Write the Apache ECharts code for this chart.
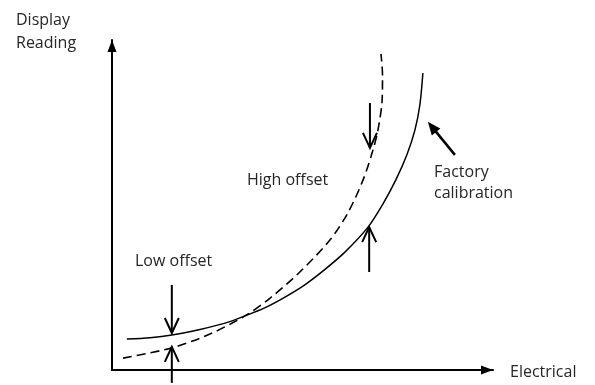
<!DOCTYPE html>
<html>
<head>
<meta charset="utf-8">
<script src="https://cdn.jsdelivr.net/npm/echarts@6/dist/echarts.min.js"></script>
<style>
  html, body { margin: 0; padding: 0; background: #fff; }
  #chart { width: 595px; height: 385px; }
</style>
</head>
<body>
<div id="chart"></div>
<script>
// Factory calibration curve: [electrical input, display reading]
const factoryCalibration = [
  [3.9, 9.4], [10.0, 9.8], [15.7, 10.6], [23.1, 12.3], [29.7, 14.2],
  [34.9, 16.4], [40.2, 18.9], [45.4, 22.1], [50.7, 25.9], [55.9, 30.5],
  [61.2, 35.8], [67.2, 43.3], [71.1, 50.3], [74.5, 57.6], [77.4, 65.2],
  [79.5, 72.7], [80.8, 80.3], [81.6, 90.0]
];

// Sensor response with an offset (lower at the low end, higher at the high end)
const offsetCurve = [
  [2.9, 3.6], [15.7, 6.7], [25.7, 10.9], [34.9, 16.4], [41.5, 21.8],
  [49.3, 29.7], [57.2, 39.4], [61.9, 47.6], [65.9, 57.6], [68.5, 66.7],
  [69.8, 72.7], [70.9, 81.8], [71.0, 89.4], [70.6, 95.8]
];

// Offset markers: [x1, y1, x2, y2, head] (arrow runs from point 1 to point 2)
const offsetArrows = [
  [15.7, 25.8, 15.7, 11.2, 'open'],   // low offset, from above
  [15.7, -3.9, 15.7, 7.0, 'open'],    // low offset, from below
  [67.7, 80.9, 67.7, 67.3, 'open'],   // high offset, from above
  [67.5, 29.7, 67.5, 43.3, 'open']    // high offset, from below
];

// Pointer to the factory calibration curve
const calibrationPointer = [
  [90.0, 65.2, 82.9, 75.2, 'filled']
];

const axisTitles = { y: ['Display', 'Reading'], x: 'Electrical' };
const notes = { high: 'High offset', low: 'Low offset', factory: ['Factory', 'calibration'] };

const FONT = '16px "Open Sans", "Noto Sans", sans-serif';
const INK = '#000';
const TEXT = '#262626';

function renderArrow(params, api) {
  const p1 = api.coord([api.value(0), api.value(1)]);
  const p2 = api.coord([api.value(2), api.value(3)]);
  const head = api.value(4);
  const dx = p2[0] - p1[0], dy = p2[1] - p1[1];
  const len = Math.sqrt(dx * dx + dy * dy);
  const ux = dx / len, uy = dy / len;
  const nx = -uy, ny = ux;
  const children = [];
  if (head === 'open') {
    const L = 15, W = 7;
    children.push({
      type: 'line',
      shape: { x1: p1[0], y1: p1[1], x2: p2[0], y2: p2[1] },
      style: { stroke: INK, lineWidth: 2 }
    });
    children.push({
      type: 'polyline',
      shape: { points: [
        [p2[0] - L * ux + W * nx, p2[1] - L * uy + W * ny],
        [p2[0], p2[1]],
        [p2[0] - L * ux - W * nx, p2[1] - L * uy - W * ny]
      ] },
      style: { stroke: INK, lineWidth: 2, fill: null }
    });
  } else {
    const L = 13, W = 5.5;
    children.push({
      type: 'line',
      shape: { x1: p1[0], y1: p1[1], x2: p2[0] - L * 0.6 * ux, y2: p2[1] - L * 0.6 * uy },
      style: { stroke: INK, lineWidth: 2.5 }
    });
    children.push({
      type: 'polygon',
      shape: { points: [
        [p2[0], p2[1]],
        [p2[0] - L * ux + W * nx, p2[1] - L * uy + W * ny],
        [p2[0] - L * ux - W * nx, p2[1] - L * uy - W * ny]
      ] },
      style: { fill: INK }
    });
  }
  return { type: 'group', children: children };
}

const chart = echarts.init(document.getElementById('chart'), null, { renderer: 'canvas' });

const axisCommon = {
  type: 'value',
  min: 0,
  max: 100,
  splitLine: { show: false },
  axisTick: { show: false },
  axisLabel: { show: false },
  axisLine: {
    show: true,
    onZero: false,
    lineStyle: { color: INK, width: 2 },
    symbol: ['none', 'triangle'],
    symbolSize: [9, 12],
    symbolOffset: [0, -6]
  }
};

chart.setOption({
  animation: false,
  backgroundColor: '#fff',
  grid: { left: 112, right: 102, top: 40, bottom: 15 },
  xAxis: axisCommon,
  yAxis: axisCommon,
  series: [
    {
      name: 'Factory calibration',
      type: 'line',
      data: factoryCalibration,
      smooth: 0.3,
      showSymbol: false,
      symbol: 'none',
      lineStyle: { color: INK, width: 1.5, type: 'solid' }
    },
    {
      name: 'Offset',
      type: 'line',
      data: offsetCurve,
      smooth: 0.3,
      showSymbol: false,
      symbol: 'none',
      lineStyle: { color: INK, width: 1.6, type: [9, 5] }
    },
    {
      type: 'custom',
      renderItem: renderArrow,
      data: offsetArrows.concat(calibrationPointer),
      encode: { x: [0, 2], y: [1, 3] },
      clip: false,
      silent: true
    }
  ],
  graphic: [
    { type: 'text', left: 16, top: 12, style: { text: axisTitles.y[0], font: FONT, fill: TEXT } },
    { type: 'text', left: 16, top: 35, style: { text: axisTitles.y[1], font: FONT, fill: TEXT } },
    { type: 'text', left: 510, top: 364, style: { text: axisTitles.x, font: FONT, fill: TEXT } },
    { type: 'text', left: 247, top: 172, style: { text: notes.high, font: FONT, fill: TEXT } },
    { type: 'text', left: 135, top: 253, style: { text: notes.low, font: FONT, fill: TEXT } },
    { type: 'text', left: 434, top: 164, style: { text: notes.factory[0], font: FONT, fill: TEXT } },
    { type: 'text', left: 434, top: 185, style: { text: notes.factory[1], font: FONT, fill: TEXT } }
  ]
});
</script>
</body>
</html>
